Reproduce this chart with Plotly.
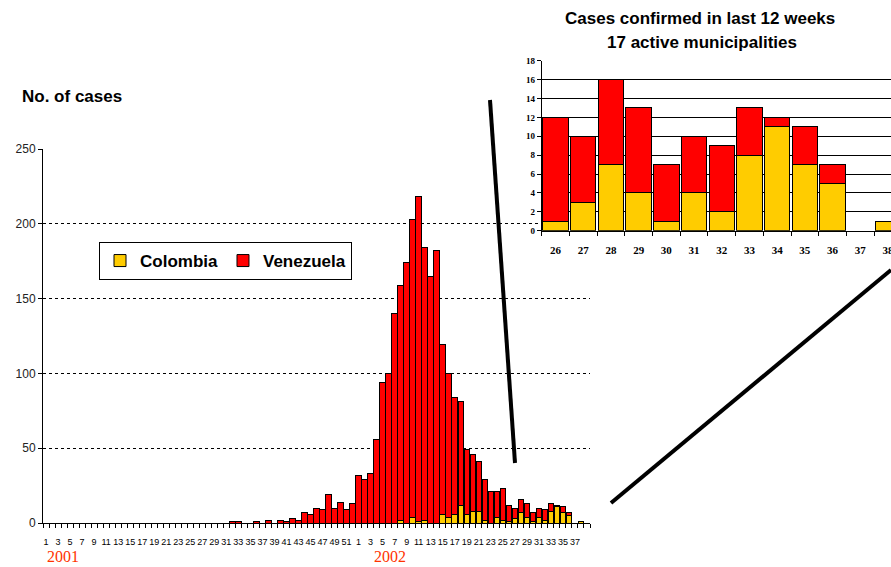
import plotly.graph_objects as go

W, H = 891, 567

# ---------------- data: main chart (weekly cases) ----------------
weeks_2001 = list(range(1, 53))
weeks_2002 = list(range(1, 40))

colombia_2001 = [0, 0, 0, 0, 0, 0, 0, 0, 0, 0, 0, 0, 0, 0, 0, 0, 0, 0, 0, 0,
                 0, 0, 0, 0, 0, 0, 0, 0, 0, 0, 0, 0, 0, 0, 0, 0, 0, 0, 0, 0,
                 0, 0, 0, 0, 0, 0, 0, 0, 0, 0, 0, 0]
venezuela_2001 = [0, 0, 0, 0, 0, 0, 0, 0, 0, 0, 0, 0, 0, 0, 0, 0, 0, 0, 0, 0,
                  0, 0, 0, 0, 0, 0, 0, 0, 0, 0, 0, 1, 1, 0, 0, 1, 0, 2, 0, 2,
                  1, 3, 2, 7, 6, 10, 9, 19, 10, 14, 9, 13]

colombia_2002 = [0, 0, 0, 0, 0, 0, 0, 2, 0, 4, 1, 2, 0, 0, 6, 4, 6, 12, 6, 8,
                 8, 2, 0, 4, 2, 1, 3, 7, 4, 1, 4, 2, 8, 11, 7, 5, 0, 1, 0]
venezuela_2002 = [32, 29, 33, 56, 94, 100, 140, 157, 174, 199, 217, 182, 165, 182,
                  113, 96, 78, 69, 43, 38, 33, 27, 21, 17, 21, 11, 7, 9, 9, 6,
                  6, 7, 5, 1, 4, 2, 0, 0, 0]

main_yticks = [0, 50, 100, 150, 200, 250]

# ---------------- data: inset (last weeks) ----------------
inset_weeks = ["26", "27", "28", "29", "30", "31", "32", "33", "34", "35", "36", "37", "38"]
inset_colombia = [1, 3, 7, 4, 1, 4, 2, 8, 11, 7, 5, 0, 1]
inset_venezuela = [11, 7, 9, 9, 6, 6, 7, 5, 1, 4, 2, 0, 0]
inset_yticks = [0, 2, 4, 6, 8, 10, 12, 14, 16, 18]

# ---------------- derived ----------------
main_labels = [str(w) for w in weeks_2001] + [str(w) for w in weeks_2002]
main_x = list(range(len(main_labels)))
main_col = colombia_2001 + colombia_2002
main_ven = venezuela_2001 + venezuela_2002
last_shown = 88  # labels shown up to week 37 of 2002
main_tickvals = [i for i in main_x if i % 2 == 0 and i <= last_shown]
main_ticktext = [main_labels[i] for i in main_tickvals]

inset_x = list(range(len(inset_weeks)))


def nz(values):
    # empty weeks draw no bar at all (no outline on the axis)
    return [v if v else None for v in values]


def px(x):
    return x / W


def py(y):
    return 1 - y / H


YELLOW = "#FFCC00"
RED = "#FF0000"

fig = go.Figure()

fig.add_trace(go.Bar(x=main_x, y=nz(main_col), name="Colombia",
                     marker=dict(color=YELLOW, line=dict(color="#000", width=1)),
                     xaxis="x", yaxis="y"))
fig.add_trace(go.Bar(x=main_x, y=nz(main_ven), name="Venezuela",
                     marker=dict(color=RED, line=dict(color="#000", width=1)),
                     xaxis="x", yaxis="y"))

fig.add_trace(go.Bar(x=inset_x, y=nz(inset_colombia), name="Colombia", showlegend=False,
                     marker=dict(color=YELLOW, line=dict(color="#000", width=1)),
                     xaxis="x2", yaxis="y2"))
fig.add_trace(go.Bar(x=inset_x, y=nz(inset_venezuela), name="Venezuela", showlegend=False,
                     marker=dict(color=RED, line=dict(color="#000", width=1)),
                     xaxis="x2", yaxis="y2"))

serif = "Liberation Serif, Times New Roman, serif"
sans = "Arial, Liberation Sans, sans-serif"

fig.update_layout(
    width=W, height=H,
    margin=dict(l=0, r=0, t=0, b=0),
    paper_bgcolor="white", plot_bgcolor="white",
    barmode="stack", bargap=0.08,
    font=dict(family=sans, color="#000"),
    showlegend=True,
    hovermode=False,
    legend=dict(
        x=px(99), y=py(242), xanchor="left", yanchor="top",
        orientation="h", traceorder="normal",
        bgcolor="white", bordercolor="#000", borderwidth=1,
        font=dict(family=sans, size=17, color="#000", weight="bold"),
    ),
    xaxis=dict(
        domain=[px(43), px(590)], range=[-0.5, len(main_x) - 0.5],
        showline=True, linecolor="#000", linewidth=1, showgrid=False, zeroline=False,
        tickmode="array", tickvals=main_tickvals, ticktext=main_ticktext,
        ticks="outside", ticklen=10, tickcolor="rgba(0,0,0,0)", tickangle=0,
        tickfont=dict(family=sans, size=9, color="#000"),
        minor=dict(tickmode="linear", tick0=-0.5, dtick=1, ticks="outside", ticklen=4,
                   tickcolor="#000", tickwidth=1, showgrid=False),
        anchor="y", automargin=False,
    ),
    yaxis=dict(
        domain=[py(523), py(149)], range=[0, 250],
        showline=True, linecolor="#000", linewidth=1,
        tickmode="array", tickvals=main_yticks,
        ticks="outside", ticklen=4, tickcolor="#000",
        tickfont=dict(family=sans, size=12, color="#222"),
        showgrid=True, gridcolor="#000", gridwidth=1, griddash="dot",
        zeroline=False, anchor="x", automargin=False,
    ),
    xaxis2=dict(
        domain=[px(541.7), 1], range=[-0.5, 12.11],
        showline=True, linecolor="#000", linewidth=1, showgrid=False, zeroline=False,
        tickmode="array", tickvals=inset_x, ticktext=inset_weeks,
        ticks="outside", ticklen=9, tickcolor="rgba(0,0,0,0)", tickangle=0,
        ticklabeloverflow="allow",
        tickfont=dict(family=serif, size=11, color="#000", weight="bold"),
        minor=dict(tickmode="linear", tick0=-0.5, dtick=1, ticks="outside", ticklen=4,
                   tickcolor="#000", tickwidth=1, showgrid=False),
        anchor="y2", automargin=False,
    ),
    yaxis2=dict(
        domain=[py(230.7), py(60.7)], range=[0, 18],
        showline=True, linecolor="#000", linewidth=1,
        tickmode="array", tickvals=inset_yticks,
        ticks="outside", ticklen=4, tickcolor="#000",
        tickfont=dict(family=serif, size=9, color="#000", weight="bold"),
        showgrid=True, gridcolor="#000", gridwidth=1,
        zeroline=False, anchor="x2", automargin=False,
    ),
)

annotations = [
    dict(text="<b>No. of cases</b>", x=px(20), y=py(97), xanchor="left", yanchor="middle",
         font=dict(family=sans, size=17, color="#000")),
    dict(text="<b>Cases confirmed in last 12 weeks</b>", x=px(700), y=py(18), xanchor="center", yanchor="middle",
         font=dict(family=sans, size=17, color="#000")),
    dict(text="<b>17 active municipalities</b>", x=px(702), y=py(42), xanchor="center", yanchor="middle",
         font=dict(family=sans, size=17, color="#000")),
    dict(text="2001", x=px(45), y=py(556), xanchor="left", yanchor="middle",
         font=dict(family=serif, size=16, color="#FF3300")),
    dict(text="2002", x=px(372), y=py(556), xanchor="left", yanchor="middle",
         font=dict(family=serif, size=16, color="#FF3300")),
]
for a in annotations:
    a.update(xref="paper", yref="paper", showarrow=False)
fig.update_layout(annotations=annotations)

fig.update_layout(shapes=[
    dict(type="line", xref="paper", yref="paper", x0=px(490), y0=py(100), x1=px(515), y1=py(463),
         line=dict(color="#000", width=4)),
    dict(type="line", xref="paper", yref="paper", x0=px(611), y0=py(503), x1=px(891), y1=py(270),
         line=dict(color="#000", width=4)),
])

fig.write_html(
    "out.html",
    config={"displayModeBar": False},
    post_script="document.body.style.margin='0px';document.body.style.overflow='hidden';",
)
